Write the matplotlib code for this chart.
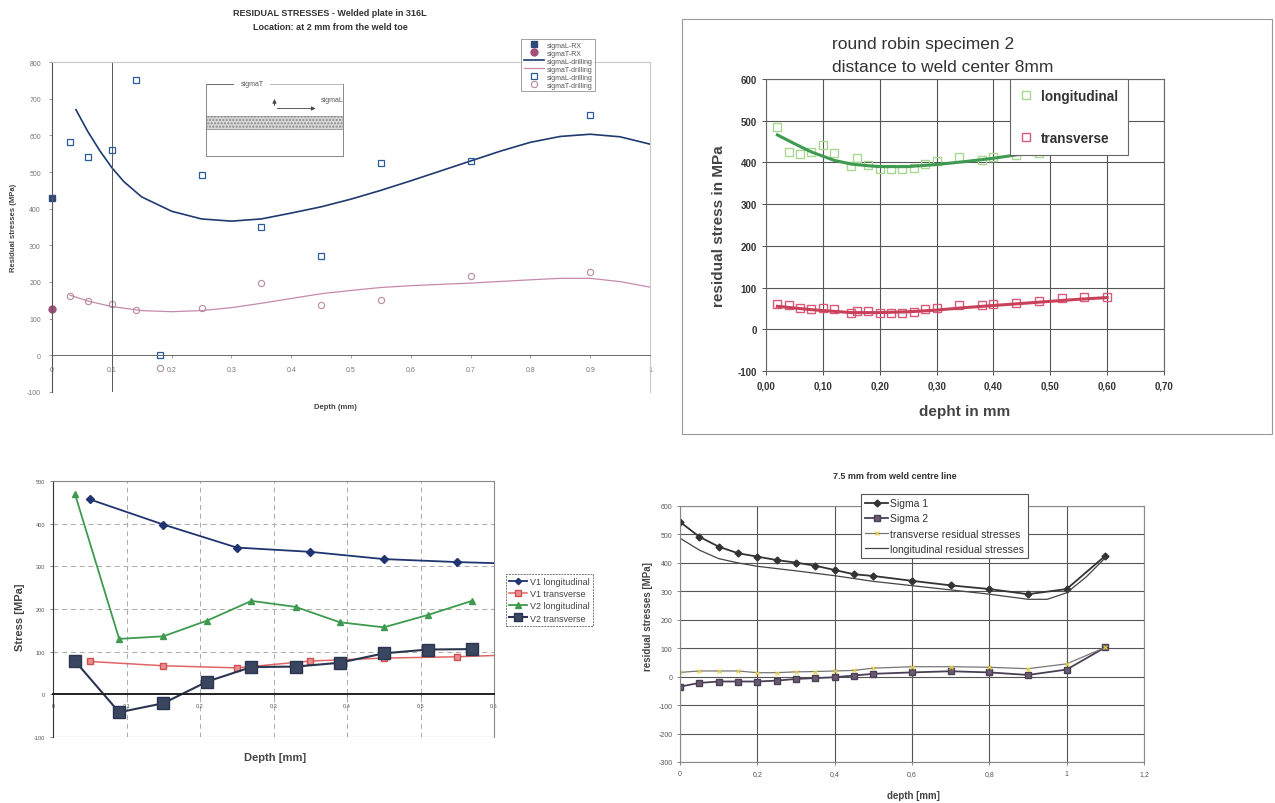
import matplotlib
matplotlib.use('Agg')
import matplotlib.pyplot as plt
from matplotlib.patches import Rectangle

plt.rcParams['font.family'] = ['Liberation Sans', 'DejaVu Sans']
plt.rcParams['axes.unicode_minus'] = False

W, H = 1275, 804

# ---- top left: welded plate 316L ----
tl_depth = [0.03, 0.06, 0.10, 0.14, 0.18, 0.25, 0.35, 0.45, 0.55, 0.70, 0.90]
tl_sigL_drill = [582, 541, 560, 752, 0, 492, 349, 270, 524, 529, 656]
tl_sigT_drill = [163, 149, 140, 124, -35, 129, 197, 137, 152, 217, 226]
tl_rx_depth = [0.0]
tl_sigL_rx = [430]
tl_sigT_rx = [127]
tl_fitL_x = [0.04, 0.06, 0.08, 0.10, 0.12, 0.15, 0.20, 0.25, 0.30, 0.35, 0.40, 0.45,
             0.50, 0.55, 0.60, 0.65, 0.70, 0.75, 0.80, 0.85, 0.90, 0.95, 1.00]
tl_fitL_y = [670, 610, 558, 512, 474, 432, 393, 372, 366, 372, 388, 405,
             426, 450, 476, 503, 530, 557, 581, 597, 603, 596, 576]
tl_fitT_x = [0.03, 0.06, 0.10, 0.15, 0.20, 0.25, 0.30, 0.35, 0.40, 0.45, 0.50,
             0.55, 0.60, 0.70, 0.80, 0.85, 0.90, 0.95, 1.00]
tl_fitT_y = [164, 148, 133, 122, 119, 122, 130, 142, 155, 168, 177,
             185, 190, 197, 206, 210, 210, 201, 186]

# ---- top right: round robin specimen 2 ----
tr_depth = [0.02, 0.04, 0.06, 0.08, 0.10, 0.12, 0.15, 0.16, 0.18, 0.20, 0.22, 0.24,
            0.26, 0.28, 0.30, 0.34, 0.38, 0.40, 0.44, 0.48, 0.52, 0.56, 0.60]
tr_long = [484, 426, 420, 424, 442, 422, 392, 410, 394, 384, 384, 384,
           386, 396, 404, 412, 406, 412, 418, 422, 440, 444, 442]
tr_trans = [60, 58, 52, 48, 50, 48, 40, 44, 44, 40, 40, 40,
            42, 48, 52, 58, 58, 60, 62, 68, 74, 78, 78]
tr_fit_x = [0.02, 0.05, 0.08, 0.10, 0.12, 0.15, 0.18, 0.20, 0.25, 0.30, 0.35,
            0.40, 0.45, 0.50, 0.55, 0.60]
tr_fit_long = [466, 445, 425, 415, 405, 396, 392, 390, 390, 395, 402,
               410, 420, 430, 440, 448]
tr_fit_trans = [55, 51, 47, 45, 43, 40, 40, 40, 42, 46, 52, 57, 62, 67, 72, 76]

# ---- bottom left: V1 / V2 ----
bl_v1_x = [0.05, 0.15, 0.25, 0.35, 0.45, 0.55, 0.65]
bl_v1_long = [457, 398, 344, 334, 317, 310, 305]
bl_v1_trans = [77, 67, 62, 78, 85, 88, 94]
bl_v2_x = [0.03, 0.09, 0.15, 0.21, 0.27, 0.33, 0.39, 0.45, 0.51, 0.57]
bl_v2_long = [469, 130, 136, 173, 219, 205, 169, 157, 186, 219]
bl_v2_trans = [78, -42, -21, 30, 64, 65, 74, 96, 105, 106]

# ---- bottom right: 7.5 mm from weld centre line ----
br_x = [0.0, 0.05, 0.10, 0.15, 0.20, 0.25, 0.30, 0.35, 0.40, 0.45, 0.50,
        0.60, 0.70, 0.80, 0.90, 1.00, 1.10]
br_sigma1 = [544, 492, 457, 434, 422, 410, 401, 390, 375, 360, 354,
             337, 321, 308, 290, 308, 425]
br_sigma2 = [-35, -22, -17, -17, -17, -14, -8, -5, -2, 4, 10,
             15, 19, 15, 6, 25, 103]
br_trans = [15, 20, 20, 20, 14, 14, 17, 18, 20, 22, 30,
            35, 35, 33, 28, 45, 103]
br_long_x = [0.0, 0.05, 0.10, 0.15, 0.20, 0.30, 0.40, 0.50, 0.60, 0.70, 0.80,
             0.90, 0.95, 1.00, 1.05, 1.10]
br_long = [487, 445, 415, 400, 388, 372, 355, 335, 320, 305, 290,
           272, 272, 295, 350, 418]


def rect(l, t, r, b):
    return [l / W, 1 - b / H, (r - l) / W, (b - t) / H]


fig = plt.figure(figsize=(W / 100, H / 100), dpi=100)

# ================= top left =================
ax = fig.add_axes(rect(52, 63, 650, 393))
ax.set_xlim(0, 1)
ax.set_ylim(-100, 800)
ax.plot(tl_fitL_x, tl_fitL_y, color='#1F3A6E', lw=1.2, label='sigmaL-drilling')
ax.plot(tl_fitT_x, tl_fitT_y, color='#C58AAE', lw=0.9, label='sigmaT-drilling')
ax.plot(tl_depth, tl_sigL_drill, ls='none', marker='s', ms=4, mfc='none',
        mec='#2B5A9A', mew=0.9, label='sigmaL-drilling')
ax.plot(tl_depth, tl_sigT_drill, ls='none', marker='o', ms=4.5, mfc='none',
        mec='#B88AA0', mew=0.8, label='sigmaT-drilling')
ax.plot(tl_rx_depth, tl_sigL_rx, ls='none', marker='s', ms=5, color='#2F4A7A',
        clip_on=False, label='sigmaL-RX')
ax.plot(tl_rx_depth, tl_sigT_rx, ls='none', marker='o', ms=5, color='#A0507A',
        clip_on=False, label='sigmaT-RX')
ax.axvline(0.1, color='#555555', lw=0.7)
for s in ['top', 'right']:
    ax.spines[s].set_color('#C8C8C8')
    ax.spines[s].set_linewidth(0.8)
ax.spines['bottom'].set_position(('data', 0))
ax.spines['bottom'].set_color('#666666')
ax.spines['bottom'].set_linewidth(0.7)
ax.spines['left'].set_color('#555555')
ax.axhline(-100, color='#D0D0D0', lw=0.8)
ax.set_xticks([0, 0.1, 0.2, 0.3, 0.4, 0.5, 0.6, 0.7, 0.8, 0.9, 1])
ax.set_xticklabels(['0', '0.1', '0.2', '0.3', '0.4', '0.5', '0.6', '0.7', '0.8', '0.9', '1'])
ax.set_yticks(range(-100, 801, 100))
ax.tick_params(labelsize=5, colors='#777777', length=2, width=0.5, pad=6)
h, l = ax.get_legend_handles_labels()
order = [4, 5, 0, 1, 2, 3]
leg = ax.legend([h[i] for i in order], [l[i] for i in order], loc='upper left',
                bbox_to_anchor=(518 / W, 1 - 37 / H), bbox_transform=fig.transFigure,
                fontsize=5, frameon=True, fancybox=False, edgecolor='#777777',
                handlelength=3, labelspacing=0.15, borderpad=0.3, handletextpad=0.4)
leg.get_frame().set_linewidth(0.6)
for t in leg.get_texts():
    t.set_color('#555555')
fig.text(330 / W, 1 - 14 / H, 'RESIDUAL STRESSES - Welded plate in 316L', ha='center',
         va='center', fontsize=6.5, fontweight='bold', color='#333333')
fig.text(330 / W, 1 - 27 / H, 'Location: at 2 mm from the weld toe', ha='center',
         va='center', fontsize=6.5, fontweight='bold', color='#333333')
fig.text(335 / W, 1 - 408 / H, 'Depth (mm)', ha='center', va='center', fontsize=5.5,
         fontweight='bold', color='#444444')
fig.text(14 / W, 1 - 228 / H, 'Residual stresses (MPa)', ha='center', va='center',
         rotation=90, fontsize=5.5, fontweight='bold', color='#444444')

# inset sketch
ins = fig.add_axes(rect(206, 85, 343, 157))
ins.set_xlim(0, 1)
ins.set_ylim(0, 1)
ins.set_xticks([])
ins.set_yticks([])
for s in ins.spines.values():
    s.set_color('#888888')
    s.set_linewidth(0.7)
ins.spines['top'].set_visible(False)
ins.plot([0, 0.2], [1, 1], color='#666666', lw=0.7, clip_on=False)
ins.plot([0.47, 1], [1, 1], color='#BBBBBB', lw=0.7, clip_on=False)
ins.text(0.335, 1.0, 'sigmaT', fontsize=5, ha='center', va='center', color='#555555')
ins.text(0.92, 0.79, 'sigmaL', fontsize=5, ha='center', va='center', color='#555555')
ins.annotate('', xy=(0.5, 0.83), xytext=(0.5, 0.66),
             arrowprops=dict(arrowstyle='-|>', color='#444444', lw=0.6, mutation_scale=6))
ins.annotate('', xy=(0.82, 0.66), xytext=(0.5, 0.66),
             arrowprops=dict(arrowstyle='-|>', color='#444444', lw=0.6, mutation_scale=6))
ins.add_patch(Rectangle((0, 0.37), 1, 0.19, facecolor='#D8D8D8', edgecolor='#888888',
                        hatch='.....', lw=0.5))

# ================= top right =================
fig.patches.append(Rectangle((682 / W, 1 - 435 / H), 590 / W, 415 / H,
                             transform=fig.transFigure, fill=False,
                             edgecolor='#999999', lw=0.8))
ax = fig.add_axes(rect(766, 80, 1164, 372))
ax.set_xlim(0, 0.7)
ax.set_ylim(-100, 600)
ax.grid(True, color='#555555', lw=0.8)
ax.set_axisbelow(True)
ax.plot(tr_depth, tr_long, ls='none', marker='s', ms=6, mfc='none', mec='#A8D890',
        mew=1.0, label='longitudinal')
ax.plot(tr_depth, tr_trans, ls='none', marker='s', ms=6, mfc='none', mec='#D85A78',
        mew=1.0, label='transverse')
ax.plot(tr_fit_x, tr_fit_long, color='#3E9A50', lw=2.2)
ax.plot(tr_fit_x, tr_fit_trans, color='#C8405A', lw=2.2)
ax.set_xticks([0, 0.1, 0.2, 0.3, 0.4, 0.5, 0.6, 0.7])
ax.set_xticklabels(['0,00', '0,10', '0,20', '0,30', '0,40', '0,50', '0,60', '0,70'])
ax.set_yticks(range(-100, 601, 100))
ax.tick_params(labelsize=7, colors='#333333', length=3, width=0.6)
for t in ax.get_xticklabels() + ax.get_yticklabels():
    t.set_fontweight('bold')
for s in ax.spines.values():
    s.set_color('#666666')
    s.set_linewidth(0.8)
ax.set_xlabel('depht in mm', fontsize=11, fontweight='bold', color='#444444', labelpad=10)
ax.set_ylabel('residual stress in MPa', fontsize=11, fontweight='bold', color='#444444',
              labelpad=8)
leg = ax.legend(loc='upper left', bbox_to_anchor=(1010 / W, 1 - 80 / H),
                bbox_transform=fig.transFigure, fontsize=9.8, frameon=True,
                fancybox=False, edgecolor='#666666', framealpha=1, labelspacing=2.1,
                handlelength=1.0, borderpad=0.7, handletextpad=0.6, borderaxespad=0)
leg.get_frame().set_linewidth(0.8)
for t in leg.get_texts():
    t.set_fontweight('bold')
    t.set_color('#333333')
fig.text(832 / W, 1 - 45 / H, 'round robin specimen 2', fontsize=12.5, color='#333333',
         va='center', ha='left')
fig.text(832 / W, 1 - 68 / H, 'distance to weld center 8mm', fontsize=12.5, color='#333333',
         va='center', ha='left')

# ================= bottom left =================
ax = fig.add_axes(rect(53, 482, 494, 738))
ax.set_xlim(0, 0.6)
ax.set_ylim(-100, 500)
ax.grid(True, color='#AAAAAA', lw=0.7, ls=(0, (5, 4)))
ax.set_axisbelow(True)
ax.plot(bl_v1_x, bl_v1_long, color='#1F3470', lw=1.3, marker='D', ms=4,
        label='V1 longitudinal')
ax.plot(bl_v1_x, bl_v1_trans, color='#E06666', lw=1.1, marker='s', ms=5,
        mfc='#E89090', mec='#D05050', label='V1 transverse')
ax.plot(bl_v2_x, bl_v2_long, color='#3E9A4E', lw=1.3, marker='^', ms=5,
        label='V2 longitudinal')
ax.plot(bl_v2_x, bl_v2_trans, color='#2A3550', lw=1.5, marker='s', ms=8,
        mfc='#3A4560', label='V2 transverse')
ax.spines['bottom'].set_position(('data', 0))
ax.spines['bottom'].set_color('#222222')
ax.spines['bottom'].set_linewidth(1.4)
ax.axhline(-100, color='#888888', lw=0.8)
ax.set_xticks([0, 0.1, 0.2, 0.3, 0.4, 0.5, 0.6])
ax.set_xticklabels(['0', '0,1', '0,2', '0,3', '0,4', '0,5', '0,6'])
ax.set_yticks(range(-100, 501, 100))
ax.tick_params(axis='y', labelsize=4, colors='#555555', length=2, width=0.5)
ax.tick_params(axis='x', labelsize=4, colors='#555555', length=2, width=0.5, pad=4)
for s in ['top', 'right']:
    ax.spines[s].set_color('#888888')
    ax.spines[s].set_linewidth(0.8)
ax.spines['left'].set_color('#333333')
fig.text(275 / W, 1 - 758 / H, 'Depth [mm]', ha='center', va='center', fontsize=8,
         fontweight='bold', color='#444444')
fig.text(20 / W, 1 - 617 / H, 'Stress [MPa]', ha='center', va='center', rotation=90,
         fontsize=8, fontweight='bold', color='#444444')
leg = ax.legend(loc='upper left', bbox_to_anchor=(506 / W, 1 - 575 / H),
                bbox_transform=fig.transFigure, fontsize=6.5, frameon=True,
                fancybox=False, edgecolor='#777777', framealpha=1, handlelength=2.0,
                labelspacing=0.35, borderpad=0.35, handletextpad=0.3, borderaxespad=0,
                markerscale=0.8)
leg.get_frame().set_linewidth(0.7)
leg.get_frame().set_linestyle((0, (2, 1)))
for t in leg.get_texts():
    t.set_color('#444444')

# ================= bottom right =================
ax = fig.add_axes(rect(680, 507, 1144, 763))
ax.set_xlim(0, 1.2)
ax.set_ylim(-300, 600)
ax.grid(True, color='#555555', lw=0.8)
ax.set_axisbelow(True)
ax.plot(br_x, br_sigma1, color='#333333', lw=1.3, marker='D', ms=3.5, label='Sigma 1')
ax.plot(br_x, br_sigma2, color='#4A4055', lw=1.3, marker='s', ms=4, mfc='#6A5A70',
        label='Sigma 2')
ax.plot(br_x, br_trans, color='#777777', lw=0.9, marker='x', ms=3, mec='#E8D040',
        mew=0.8, label='transverse residual stresses')
ax.plot(br_long_x, br_long, color='#444444', lw=0.9, label='longitudinal residual stresses')
ax.set_xticks([0, 0.2, 0.4, 0.6, 0.8, 1.0, 1.2])
ax.set_xticklabels(['0', '0,2', '0,4', '0,6', '0,8', '1', '1,2'])
ax.set_yticks(range(-300, 601, 100))
ax.tick_params(labelsize=5, colors='#555555', length=2, width=0.5)
for s in ax.spines.values():
    s.set_color('#888888')
    s.set_linewidth(0.8)
fig.text(895 / W, 1 - 477 / H, '7.5 mm from weld centre line', ha='center', va='center',
         fontsize=6.5, fontweight='bold', color='#333333')
fig.text(913 / W, 1 - 796 / H, 'depth [mm]', ha='center', va='center', fontsize=7,
         fontweight='bold', color='#444444')
fig.text(648 / W, 1 - 617 / H, 'residual stresses [MPa]', ha='center', va='center',
         rotation=90, fontsize=7, fontweight='bold', color='#444444')
leg = ax.legend(loc='upper left', bbox_to_anchor=(861 / W, 1 - 495 / H),
                bbox_transform=fig.transFigure, fontsize=7.5, frameon=True,
                fancybox=False, edgecolor='#555555', framealpha=1, handlelength=2.2,
                labelspacing=0.5, borderpad=0.4, handletextpad=0.2, borderaxespad=0)
leg.get_frame().set_linewidth(0.8)
for t in leg.get_texts():
    t.set_color('#333333')

fig.savefig('out.png', dpi=100, facecolor='white')
